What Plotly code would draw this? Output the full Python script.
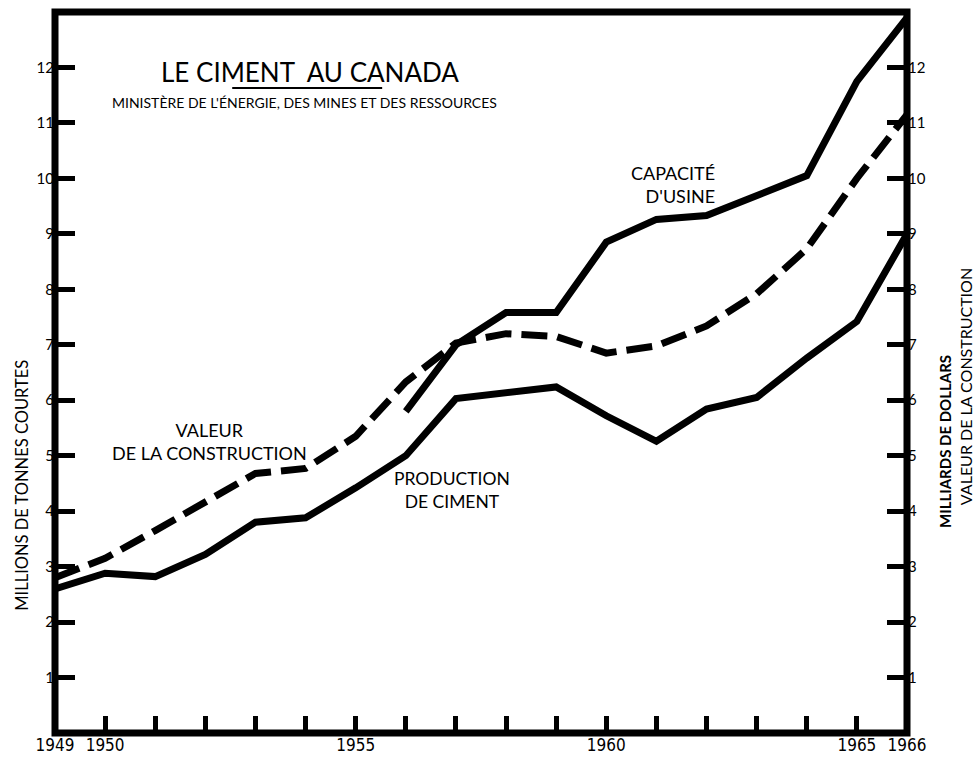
import plotly.graph_objects as go

years = list(range(1949, 1967))
production_ciment = [2.6, 2.88, 2.82, 3.22, 3.8, 3.88, 4.42, 5.0, 6.03, 6.15, 6.24, 5.72,
                     5.26, 5.84, 6.05, 6.76, 7.42, 9.0]
valeur_construction = [2.8, 3.15, 3.65, 4.15, 4.68, 4.77, 5.35, 6.33, 7.03, 7.2, 7.15, 6.85,
                       6.98, 7.34, 7.92, 8.73, 10.0, 11.15]
capacite_usine = [None, None, None, None, None, None, None, 5.8, 7.0, 7.58, 7.58, 8.85,
                  9.26, 9.33, 9.7, 10.05, 11.75, 12.9]
year_labels = {1949: "1949", 1950: "1950", 1955: "1955", 1960: "1960", 1965: "1965", 1966: "1966"}
y_ticks = list(range(1, 13))

FONT = "Lato, 'Noto Sans', sans-serif"
NARROW = "'Liberation Sans Narrow', 'DejaVu Sans Condensed', Lato, sans-serif"

fig = go.Figure()
fig.add_trace(go.Scatter(x=years, y=production_ciment, mode="lines",
                         line=dict(color="black", width=7), hoverinfo="skip"))
fig.add_trace(go.Scatter(x=years, y=capacite_usine, mode="lines",
                         line=dict(color="black", width=7), hoverinfo="skip"))
fig.add_trace(go.Scatter(x=years, y=valeur_construction, mode="lines", yaxis="y2",
                         line=dict(color="black", width=7, dash="26px,10px"), hoverinfo="skip"))

fig.update_layout(
    width=976, height=757,
    margin=dict(l=55, r=69, t=12, b=24, autoexpand=False),
    paper_bgcolor="white", plot_bgcolor="white",
    showlegend=False,
    xaxis=dict(range=[1949, 1966], tickvals=years,
               ticktext=[year_labels.get(y, "") for y in years],
               ticks="inside", ticklen=17, tickwidth=5, tickcolor="black",
               showgrid=False, zeroline=False, showline=False, automargin=False,
               tickfont=dict(family=NARROW, size=17, color="black")),
    yaxis=dict(range=[0, 13], tickvals=y_ticks, ticktext=[str(v) for v in y_ticks],
               ticks="inside", ticklen=20, tickwidth=5, tickcolor="black",
               showgrid=False, zeroline=False, showline=False, automargin=False,
               tickfont=dict(family=FONT, size=15, color="black")),
    yaxis2=dict(range=[0, 13], tickvals=y_ticks, ticktext=[str(v) for v in y_ticks],
                overlaying="y", side="right",
                ticks="inside", ticklen=20, tickwidth=5, tickcolor="black",
                showgrid=False, zeroline=False, showline=False, automargin=False,
                tickfont=dict(family=FONT, size=15, color="black")),
)

fig.add_shape(type="rect", xref="paper", yref="paper", x0=0, x1=1, y0=0, y1=1,
              line=dict(color="black", width=7))
fig.add_shape(type="line", xref="paper", yref="paper", x0=0.208, x1=0.384, y0=0.8946, y1=0.8946,
              line=dict(color="black", width=2))

ann = [
    dict(text="LE CIMENT  AU CANADA", x=0.299, y=0.917, size=26),
    dict(text="MINISTÈRE DE L'ÉNERGIE, DES MINES ET DES RESSOURCES", x=0.293, y=0.874, size=14),
    dict(text="CAPACITÉ<br>D'USINE", x=0.777, y=0.761, size=18, xanchor="right", align="right"),
    dict(text="VALEUR<br>DE LA CONSTRUCTION", x=0.181, y=0.404, size=18),
    dict(text="PRODUCTION<br>DE CIMENT", x=0.466, y=0.337, size=17.5),
]
for a in ann:
    fig.add_annotation(text=a["text"], x=a["x"], y=a["y"], xref="paper", yref="paper",
                       showarrow=False, xanchor=a.get("xanchor", "center"), yanchor="middle",
                       align=a.get("align", "center"),
                       font=dict(family=FONT, size=a["size"], color="black"))

fig.add_annotation(text="MILLIONS DE TONNES COURTES", x=-0.0387, y=0.343, xref="paper", yref="paper",
                   showarrow=False, textangle=-90, xanchor="center", yanchor="middle",
                   font=dict(family=FONT, size=16.5, color="black"))
fig.add_annotation(text="<b>MILLIARDS DE DOLLARS</b>", x=1.0446, y=0.405, xref="paper", yref="paper",
                   showarrow=False, textangle=-90, xanchor="center", yanchor="middle",
                   font=dict(family=FONT, size=15, color="black"))
fig.add_annotation(text="VALEUR DE LA CONSTRUCTION", x=1.0680, y=0.481, xref="paper", yref="paper",
                   showarrow=False, textangle=-90, xanchor="center", yanchor="middle",
                   font=dict(family=FONT, size=16, color="black"))

fig.write_html("out.html", config={"displayModeBar": False},
               post_script="document.body.style.margin='0';document.body.style.overflow='hidden';")
